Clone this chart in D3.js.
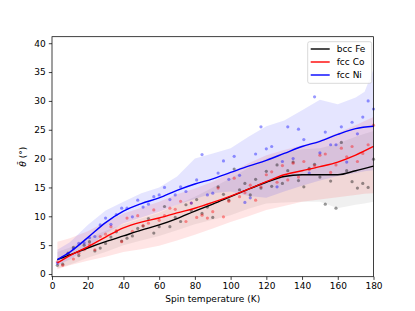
<!DOCTYPE html>
<html>
<head>
<meta charset="utf-8">
<script src="https://cdn.jsdelivr.net/npm/d3@7"></script>
<style>
    html, body { margin: 0; padding: 0; background: #fff; }
    svg { display: block; font-family: "DejaVu Sans", sans-serif; }
</style>
</head>
<body>
<div id="chart"></div>
<script>
// scatter temperatures (K)
const pointTemps = [3, 6, 9, 12, 15, 18, 21, 24, 27, 30, 33, 36, 39, 42, 45, 48, 51, 54, 57, 60,
    63, 66, 69, 72, 75, 78, 81, 84, 87, 90, 93, 96, 99, 102, 105, 108, 111, 114, 117, 120,
    123, 126, 129, 132, 135, 138, 141, 144, 147, 150, 153, 156, 159, 162, 165, 168, 171, 174, 177, 180];

const fePoints = [1.5, 1.7, 3.6, 4.6, 3.2, 5.0, 5.6, 4.0, 4.5, 5.3, 6.4, 7.3, 5.7, 6.2, 6.6, 7.9, 8.3, 9.6, 7.1, 8.2,
    11.7, 8.2, 9.8, 9.1, 12.0, 11.0, 12.9, 10.5, 11.6, 9.8, 15.1, 13.8, 12.8, 18.2, 14.6, 15.7, 13.7, 16.4, 14.9, 17.8,
    15.2, 18.9, 15.7, 17.9, 19.4, 16.2, 15.1, 18.3, 19.0, 16.8, 12.1, 16.1, 11.4, 22.8, 17.9, 16.0, 14.9, 15.7, 15.0, 19.9];

const coPoints = [2.1, 1.5, 3.4, 2.6, 3.6, 4.2, 5.1, 4.2, 6.5, 6.9, 8.2, 7.5, 5.6, 9.7, 7.4, 10.1, 8.4, 8.8, 11.1, 9.3,
    10.1, 11.4, 11.2, 12.6, 9.1, 12.3, 9.8, 10.2, 9.7, 10.8, 14.9, 9.9, 12.6, 16.6, 13.4, 14.1, 15.4, 12.8, 15.1, 17.2,
    17.7, 15.9, 18.8, 16.3, 19.2, 16.8, 19.5, 18.1, 18.8, 20.6, 20.8, 17.6, 18.9, 21.8, 20.3, 22.1, 19.5, 20.9, 22.4, 25.8];

const niPoints = [1.9, 2.9, 3.5, 4.4, 5.3, 5.4, 6.3, 6.5, 8.5, 9.7, 8.6, 10.3, 11.4, 11.4, 9.9, 12.8, 11.6, 12.1, 13.4, 13.7,
    15.0, 12.9, 13.7, 15.1, 14.3, 12.3, 16.3, 20.7, 13.7, 14.0, 17.5, 19.6, 16.4, 20.4, 17.1, 12.4, 13.2, 20.8, 25.5, 21.7,
    22.1, 15.1, 19.5, 25.5, 20.0, 25.1, 23.3, 17.5, 30.7, 21.0, 24.6, 22.4, 22.4, 25.5, 19.4, 26.3, 24.3, 27.2, 30.0, 28.6];

// smoothed mean curves
const lineTemps = [3, 10, 20, 30, 40, 50, 60, 70, 80, 90, 100, 110, 120, 130, 140, 150, 160, 170, 180];
const feLine = [2.5, 3.3, 4.5, 5.6, 6.6, 7.6, 8.5, 9.6, 10.9, 12.1, 13.4, 14.7, 15.9, 16.9, 17.2, 17.2, 17.2, 17.9, 18.7];
const coLine = [1.9, 3.2, 4.7, 6.4, 8.0, 9.0, 9.7, 10.6, 11.4, 12.4, 13.5, 14.7, 16.0, 17.2, 17.9, 18.6, 19.4, 20.6, 22.1];
const niLine = [2.5, 3.8, 6.3, 8.9, 10.9, 12.2, 13.2, 14.5, 15.6, 16.5, 17.6, 18.7, 19.7, 20.9, 22.1, 23.0, 24.2, 25.2, 25.6];

// spread bands
const bandTemps = [3, 10, 20, 30, 40, 50, 60, 70, 80, 90, 100, 110, 120, 130, 140, 150, 160, 170, 175, 180];
const feLow = [1.0, 1.6, 2.8, 3.8, 5.0, 5.8, 6.6, 7.6, 8.6, 9.4, 10.2, 11.3, 12.2, 12.4, 12.5, 12.5, 11.4, 12.0, 12.2, 12.5];
const feHigh = [3.8, 4.6, 6.2, 7.5, 8.6, 9.6, 10.6, 12.0, 13.4, 15.0, 16.6, 18.4, 20.0, 21.0, 21.6, 21.8, 22.6, 23.8, 24.3, 24.8];
const coLow = [0.8, 1.5, 2.3, 3.0, 3.8, 4.3, 4.9, 5.8, 6.8, 7.9, 9.0, 10.0, 11.1, 11.8, 12.5, 12.9, 13.3, 13.7, 13.9, 14.0];
const coHigh = [5.6, 6.2, 7.4, 9.0, 10.5, 11.5, 12.5, 13.8, 14.8, 16.0, 17.6, 19.2, 20.6, 21.5, 22.3, 23.2, 24.5, 25.8, 26.5, 27.2];
const niLow = [1.5, 2.5, 4.5, 7.0, 8.8, 9.8, 10.8, 12.0, 13.0, 14.0, 14.3, 13.5, 13.2, 14.3, 15.3, 16.2, 17.0, 17.5, 17.8, 18.0];
const niHigh = [4.2, 5.5, 8.5, 11.0, 12.5, 14.0, 15.0, 16.9, 20.0, 20.9, 21.8, 23.8, 25.6, 26.6, 28.4, 30.2, 29.4, 30.6, 31.6, 35.5];

const xTicks = [0, 20, 40, 60, 80, 100, 120, 140, 160, 180];
const yTicks = [0, 5, 10, 15, 20, 25, 30, 35, 40];

const series = [
    { name: 'bcc Fe', color: '#000000', points: fePoints, line: feLine, low: feLow, high: feHigh },
    { name: 'fcc Co', color: '#ff0000', points: coPoints, line: coLine, low: coLow, high: coHigh },
    { name: 'fcc Ni', color: '#0000ff', points: niPoints, line: niLine, low: niLow, high: niHigh }
];

const W = 415, H = 311;
const margin = { top: 36.7, right: 41.5, bottom: 34.3, left: 52 };
const width = W - margin.left - margin.right;
const height = H - margin.top - margin.bottom;

const svg = d3.select('#chart')
    .append('svg')
    .attr('width', W)
    .attr('height', H);

const g = svg.append('g')
    .attr('transform', `translate(${margin.left},${margin.top})`);

const x = d3.scaleLinear().domain([0, 180]).range([0, width]);
const y = d3.scaleLinear().domain([-0.47, 41.13]).range([height, 0]);

// bands, points, lines per series
series.forEach(s => {
    const area = d3.area()
        .x((d, i) => x(bandTemps[i]))
        .y0((d, i) => y(s.low[i]))
        .y1((d, i) => y(s.high[i]));

    g.append('path')
        .datum(bandTemps)
        .attr('d', area)
        .attr('fill', s.color)
        .attr('fill-opacity', s.name === 'bcc Fe' ? 0.06 : 0.1);
});

series.forEach(s => {
    g.selectAll(null)
        .data(s.points)
        .enter()
        .append('circle')
        .attr('cx', (d, i) => x(pointTemps[i]))
        .attr('cy', d => y(d))
        .attr('r', 1.6)
        .attr('fill', s.color)
        .attr('fill-opacity', 0.4);
});

series.forEach(s => {
    const line = d3.line()
        .x((d, i) => x(lineTemps[i]))
        .y(d => y(d))
        .curve(d3.curveMonotoneX);

    g.append('path')
        .datum(s.line)
        .attr('d', line)
        .attr('fill', 'none')
        .attr('stroke', s.color)
        .attr('stroke-width', 1.4);
});

// axes
const xAxis = g.append('g')
    .attr('transform', `translate(0,${height})`)
    .call(d3.axisBottom(x).tickValues(xTicks).tickSize(3.2).tickPadding(3.2));

const yAxis = g.append('g')
    .call(d3.axisLeft(y).tickValues(yTicks).tickSize(3.2).tickPadding(3.2));

[xAxis, yAxis].forEach(a => {
    a.selectAll('text').attr('font-size', 9).attr('fill', '#000').attr('font-family', '"DejaVu Sans", sans-serif');
    a.selectAll('line').attr('stroke', '#000').attr('stroke-width', 0.75);
    a.select('.domain').remove();
});

// frame
g.append('rect')
    .attr('width', width)
    .attr('height', height)
    .attr('fill', 'none')
    .attr('stroke', '#000')
    .attr('stroke-width', 0.75);

// labels
svg.append('text')
    .attr('x', margin.left + width / 2)
    .attr('y', 301.5)
    .attr('text-anchor', 'middle')
    .attr('font-size', 9)
    .text('Spin temperature (K)');

svg.append('text')
    .attr('transform', `translate(25.5,${margin.top + height / 2}) rotate(-90)`)
    .attr('text-anchor', 'middle')
    .attr('font-size', 9)
    .html('<tspan font-style="italic">θ̄</tspan> (°)');

// legend
const legend = svg.append('g')
    .attr('transform', 'translate(307.7,41.7)');

legend.append('rect')
    .attr('width', 64)
    .attr('height', 41.6)
    .attr('rx', 2)
    .attr('fill', '#fff')
    .attr('fill-opacity', 0.8)
    .attr('stroke', '#cccccc')
    .attr('stroke-width', 0.75);

series.forEach((s, i) => {
    const row = legend.append('g')
        .attr('transform', `translate(0,${7.3 + i * 13})`);

    row.append('line')
        .attr('x1', 3)
        .attr('x2', 22)
        .attr('stroke', s.color)
        .attr('stroke-width', 1.4);

    row.append('text')
        .attr('x', 29)
        .attr('y', 3.2)
        .attr('font-size', 9)
        .text(s.name);
});
</script>
</body>
</html>
